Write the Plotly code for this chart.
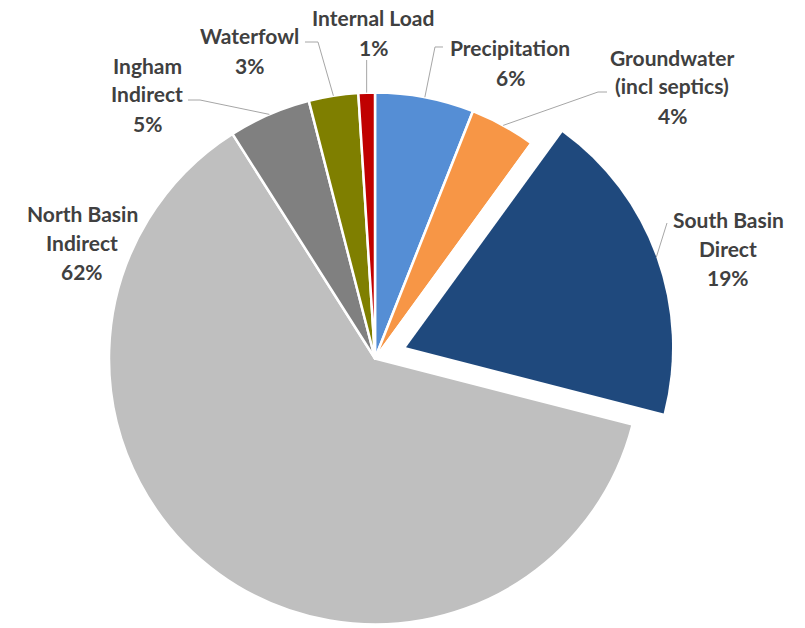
import math
import plotly.graph_objects as go

# ---- data ----
labels = ["Precipitation", "Groundwater (incl septics)", "South Basin Direct",
          "North Basin Indirect", "Ingham Indirect", "Waterfowl", "Internal Load"]
label_lines = [["Precipitation"], ["Groundwater", "(incl septics)"], ["South Basin", "Direct"],
               ["North Basin", "Indirect"], ["Ingham", "Indirect"], ["Waterfowl"], ["Internal Load"]]
values = [6, 4, 19, 62, 5, 3, 1]
colors = ["#558ED5", "#F79646", "#1F497D", "#BFBFBF", "#808080", "#7F7F00", "#C00000"]
exploded = "South Basin Direct"

# ---- layout constants (pixels) ----
W, H = 805, 628
CX, CY, R = 375, 358.5, 266
PULL = 0.124
LINE_GAP = 29
# label first-line centers
label_pos = [(510, 48), (672, 57), (728, 219), (82, 213), (147, 65), (250, 36), (373, 18)]
# leader line start (near label) and elbow; None = no leader
leader = [((443, 47), (435, 47)), ((607, 92), (598, 92)), ((667, 223), None), None,
          ((188, 100), (200, 100)), ((305, 42), (318, 42)), ("vertical", 60)]


def px(x):
    return x / W


def py(y):
    return 1 - y / H


total = sum(values)
ex_idx = labels.index(exploded)

# mid angles (clockwise from 12 o'clock)
mids = []
acc = 0
for v in values:
    mids.append((acc + v / 2) / total * 360)
    acc += v

ex_ang = math.radians(mids[ex_idx])
dx, dy = PULL * R * math.sin(ex_ang), -PULL * R * math.cos(ex_ang)

main_colors = [("rgba(0,0,0,0)" if i == ex_idx else c) for i, c in enumerate(colors)]
ex_colors = [(c if i == ex_idx else "rgba(0,0,0,0)") for i, c in enumerate(colors)]


def dom(cx, cy):
    return dict(x=[px(cx - R), px(cx + R)], y=[py(cy + R), py(cy - R)])


fig = go.Figure()
fig.add_trace(go.Pie(labels=labels, values=values, sort=False, direction="clockwise",
                     rotation=0, textinfo="none", hoverinfo="label+percent",
                     marker=dict(colors=main_colors, line=dict(color="white", width=2.5)),
                     domain=dom(CX, CY), showlegend=False))
fig.add_trace(go.Pie(labels=labels, values=values, sort=False, direction="clockwise",
                     rotation=0, textinfo="none", hoverinfo="label+percent",
                     marker=dict(colors=ex_colors, line=dict(color="rgba(0,0,0,0)", width=0)),
                     domain=dom(CX + dx, CY + dy), showlegend=False))

annotations = []
for i, lines in enumerate(label_lines):
    pct = f"{round(values[i] / total * 100)}%"
    x0, y0 = label_pos[i]
    for k, t in enumerate(lines + [pct]):
        annotations.append(dict(x=px(x0), y=py(y0 + k * LINE_GAP), xref="paper", yref="paper",
                                text=f"<b>{t}</b>", showarrow=False, xanchor="center",
                                yanchor="middle",
                                font=dict(family="Lato", size=21, color="#404040")))

shapes = []
for i, ld in enumerate(leader):
    if ld is None:
        continue
    a = math.radians(mids[i])
    ex = CX + R * math.sin(a)
    ey = CY - R * math.cos(a)
    if i == ex_idx:
        ex += dx
        ey += dy
    if ld[0] == "vertical":
        pts = [(ex, ld[1]), (ex, ey)]
    else:
        pts = [ld[0]] + ([ld[1]] if ld[1] else []) + [(ex, ey)]
    path = "M " + " L ".join(f"{px(x):.5f},{py(y):.5f}" for x, y in pts)
    shapes.append(dict(type="path", path=path, xref="paper", yref="paper",
                       line=dict(color="#A6A6A6", width=1)))

fig.update_layout(width=W, height=H, autosize=False,
                  margin=dict(l=0, r=0, t=0, b=0),
                  paper_bgcolor="white", plot_bgcolor="white",
                  annotations=annotations, shapes=shapes, showlegend=False)

fig.write_html("out.html")
